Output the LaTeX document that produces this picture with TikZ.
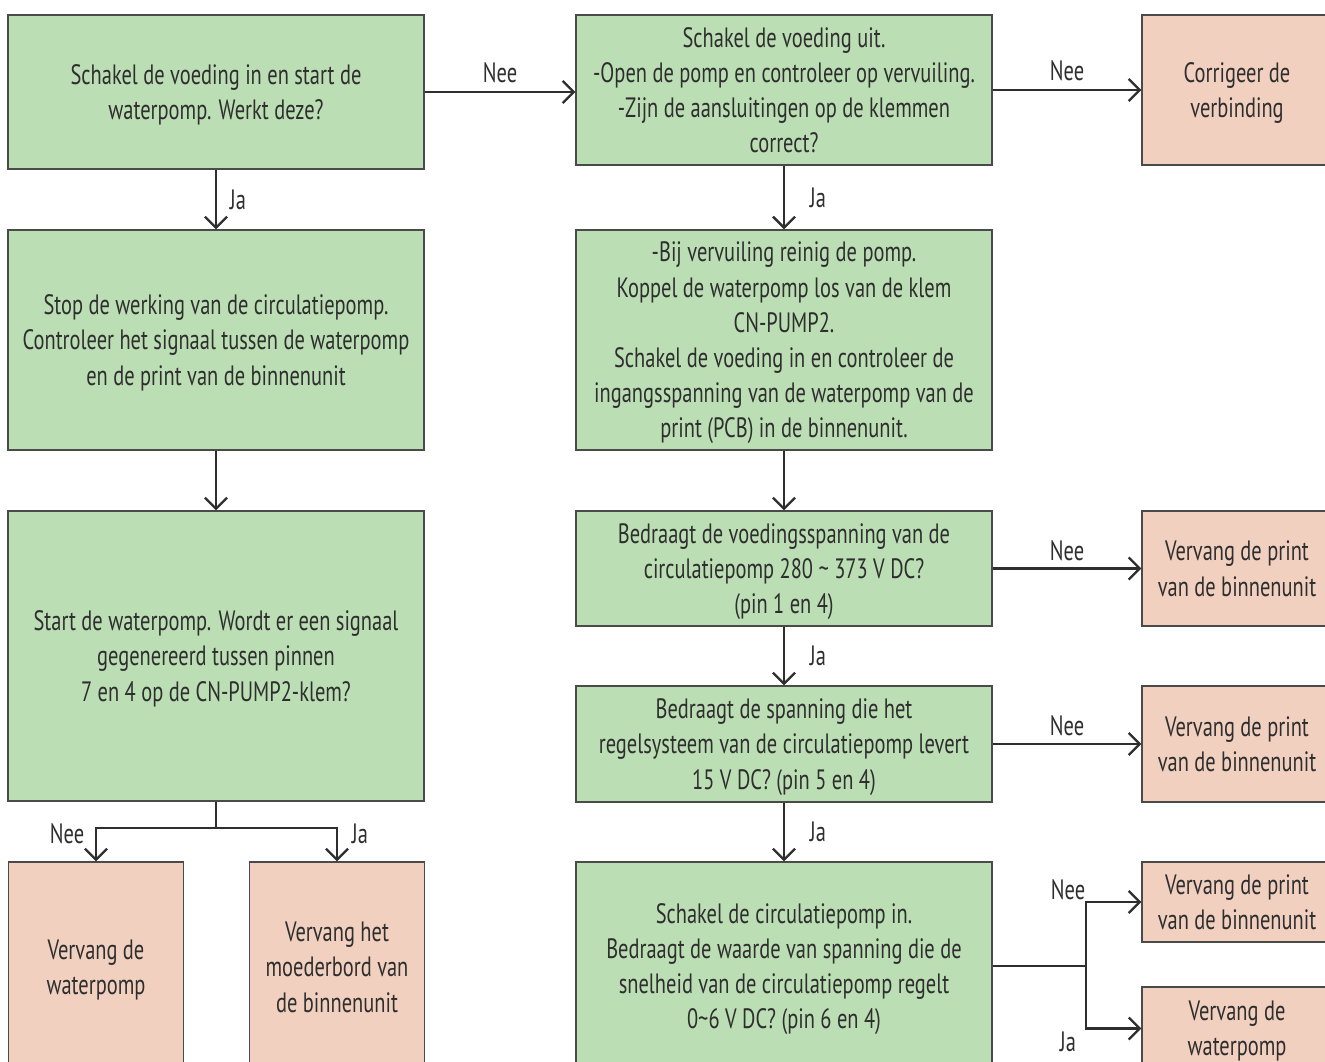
\documentclass[tikz,border=0pt]{standalone}
\usepackage{fontspec}
\setmainfont{PT Sans}[FakeStretch=0.73]
\usetikzlibrary{arrows.meta}
\definecolor{gfill}{HTML}{BCDEB4}
\definecolor{pfill}{HTML}{F1D0C0}
\definecolor{bord}{HTML}{4A4A4A}
\definecolor{txt}{HTML}{2E2E2E}
\begin{document}
\begin{tikzpicture}[x=0.5pt,y=-0.5pt,
  box/.style={draw=bord, line width=0.6pt, align=center, text=txt, inner sep=0pt,
    text depth=-1pt, font=\fontsize{14}{17.6}\selectfont},
  gbox/.style={box, fill=gfill},
  pbox/.style={box, fill=pfill},
  wide/.style={minimum width=208pt},
  narrow/.style={minimum width=87.5pt},
  rbox/.style={minimum width=95pt},
  conn/.style={draw=txt, line width=1.3pt},
  arr/.style={conn, -{Straight Barb[length=5.5pt,width=11pt,line width=1.2pt]}},
  lbl/.style={text=txt, inner sep=0pt, font=\fontsize{14}{15}\selectfont}
]
\useasboundingbox (0,0) rectangle (1325,1061);

% left column
\node[gbox, wide, minimum height=77pt] (b1) at (216,92)
  {Schakel de voeding in en start de\\waterpomp. Werkt deze?};
\node[gbox, wide, minimum height=110pt] (b2) at (216,340)
  {Stop de werking van de circulatiepomp.\\Controleer het signaal tussen de waterpomp\\en de print van de binnenunit};
\node[gbox, wide, minimum height=145pt] (b3) at (216,656)
  {Start de waterpomp. Wordt er een signaal\\gegenereerd tussen pinnen\\7 en 4 op de CN-PUMP2-klem?};
\node[pbox, narrow, minimum height=105pt] (b4) at (96,967)
  {Vervang de\\waterpomp};
\node[pbox, narrow, minimum height=105pt] (b5) at (337,967)
  {Vervang het\\moederbord van\\de binnenunit};

% middle column
\node[gbox, wide, minimum height=75pt] (m1) at (784,90)
  {Schakel de voeding uit.\\-Open de pomp en controleer op vervuiling.\\-Zijn de aansluitingen op de klemmen\\correct?};
\node[gbox, wide, minimum height=110pt] (m2) at (784,340)
  {-Bij vervuiling reinig de pomp.\\Koppel de waterpomp los van de klem\\CN-PUMP2.\\Schakel de voeding in en controleer de\\ingangsspanning van de waterpomp van de\\print (PCB) in de binnenunit.};
\node[gbox, wide, minimum height=57.5pt] (m3) at (784,568.5)
  {Bedraagt de voedingsspanning van de\\circulatiepomp 280 \textasciitilde{} 373 V DC?\\(pin 1 en 4)};
\node[gbox, wide, minimum height=58pt] (m4) at (784,744)
  {Bedraagt de spanning die het\\regelsysteem van de circulatiepomp levert\\15 V DC? (pin 5 en 4)};
\node[gbox, wide, minimum height=104pt] (m5) at (784,966)
  {Schakel de circulatiepomp in.\\Bedraagt de waarde van spanning die de\\snelheid van de circulatiepomp regelt\\0\textasciitilde 6 V DC? (pin 6 en 4)};

% right column
\node[pbox, rbox, minimum height=75pt] (r1) at (1237,90) {Corrigeer de\\verbinding};
\node[pbox, rbox, minimum height=57.5pt] (r2) at (1237,568.5) {Vervang de print\\van de binnenunit};
\node[pbox, rbox, minimum height=58pt] (r3) at (1237,744) {Vervang de print\\van de binnenunit};
\node[pbox, rbox, minimum height=40pt] (r4) at (1237,902) {Vervang de print\\van de binnenunit};
\node[pbox, rbox, minimum height=41.5pt] (r5) at (1237,1028.5) {Vervang de\\waterpomp};

% connectors
\draw[arr] (b1.east) -- node[lbl, yshift=9.5pt] (l1) {Nee} (b1.east -| m1.west);
\draw[arr] (m1.east) -- node[lbl, yshift=9.5pt] (l2) {Nee} (m1.east -| r1.west);
\draw[arr] (b1.south) -- node[lbl, xshift=11pt] (l3) {Ja} (b2.north);
\draw[arr] (m1.south) -- node[lbl, xshift=17pt] (l4) {Ja} (m2.north);
\draw[arr] (b2.south) -- (b3.north);
\draw[arr] (m2.south) -- (m3.north);
\draw[arr] (m3.east) -- node[lbl, yshift=9pt] (l5) {Nee} (m3.east -| r2.west);
\draw[arr] (m3.south) -- node[lbl, xshift=17pt] (l6) {Ja} (m4.north);
\draw[arr] (m4.east) -- node[lbl, yshift=9pt] (l7) {Nee} (m4.east -| r3.west);
\draw[arr] (m4.south) -- node[lbl, xshift=17pt] (l8) {Ja} (m5.north);

\coordinate (s1) at (216,828);
\draw[conn] (b3.south) -- (s1);
\draw[arr] (s1) -| (b4.north);
\draw[arr] (s1) -| (b5.north);
\node[lbl] (l9) at (67,834) {Nee};
\node[lbl] (l10) at (360,834) {Ja};

\coordinate (s2) at (1086,966);
\draw[conn] (m5.east) -- (s2);
\draw[arr] (s2) |- (r4.west);
\draw[arr] (s2) |- (r5.west);
\node[lbl] (l11) at (1068,890) {Nee};
\node[lbl] (l12) at (1068,1042) {Ja};
\end{tikzpicture}
\end{document}
